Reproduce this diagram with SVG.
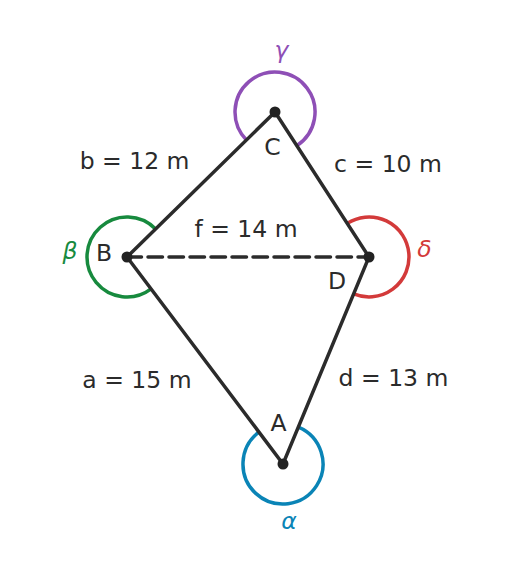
<svg xmlns="http://www.w3.org/2000/svg" width="529" height="576" viewBox="0 0 529 576">
<style>
text{font-family:"DejaVu Sans","Noto Sans","Liberation Sans",sans-serif;font-size:23.5px;fill:#2b2b2b;text-anchor:middle}
.g{font-style:italic}
.edge{stroke:#2b2b2b;stroke-width:3.5;fill:none;stroke-linecap:round}
.arc{stroke-width:3.5;fill:none}
.dot{fill:#222}
</style>
<rect width="529" height="576" fill="#fff"/>
<g id="angles">
<path class="arc" stroke="#8e4fb6" d="M246.4,140 A40,40 0 1 1 296.8,145.6"/>
<path class="arc" stroke="#178a3e" d="M151.1,288.9 A40,40 0 1 1 155.6,229"/>
<path class="arc" stroke="#d33a3a" d="M347.2,223.4 A40,40 0 1 1 353.7,293.9"/>
<path class="arc" stroke="#0a84b6" d="M298.3,427.1 A40,40 0 1 1 258.9,432.1"/>
</g>
<g id="connectors">
<path class="edge" d="M275,112 L127,257 L283,464 L369,257 Z"/>
<path class="edge" stroke-dasharray="14.5,6.5" stroke-linecap="butt" d="M127,257 H369"/>
</g>
<g id="C"><circle class="dot" cx="275" cy="112" r="5.5"/><text x="272.5" y="155">C</text></g>
<g id="B"><circle class="dot" cx="127" cy="257" r="5.5"/><text x="104" y="261">B</text></g>
<g id="D"><circle class="dot" cx="369" cy="257" r="5.5"/><text x="337" y="289">D</text></g>
<g id="A"><circle class="dot" cx="283" cy="464" r="5.5"/><text x="278.5" y="431">A</text></g>
<g id="labels">
<text x="281.5" y="58" class="g" style="fill:#8e4fb6">γ</text>
<text x="70" y="259" class="g" style="fill:#178a3e">β</text>
<text x="424.5" y="257" class="g" style="fill:#d33a3a">δ</text>
<text x="289" y="529" class="g" style="fill:#0a84b6">α</text>
<text x="134.6" y="169">b = 12 m</text>
<text x="388" y="172">c = 10 m</text>
<text x="246" y="237">f = 14 m</text>
<text x="137" y="388">a = 15 m</text>
<text x="393.5" y="386">d = 13 m</text>
</g>
</svg>
